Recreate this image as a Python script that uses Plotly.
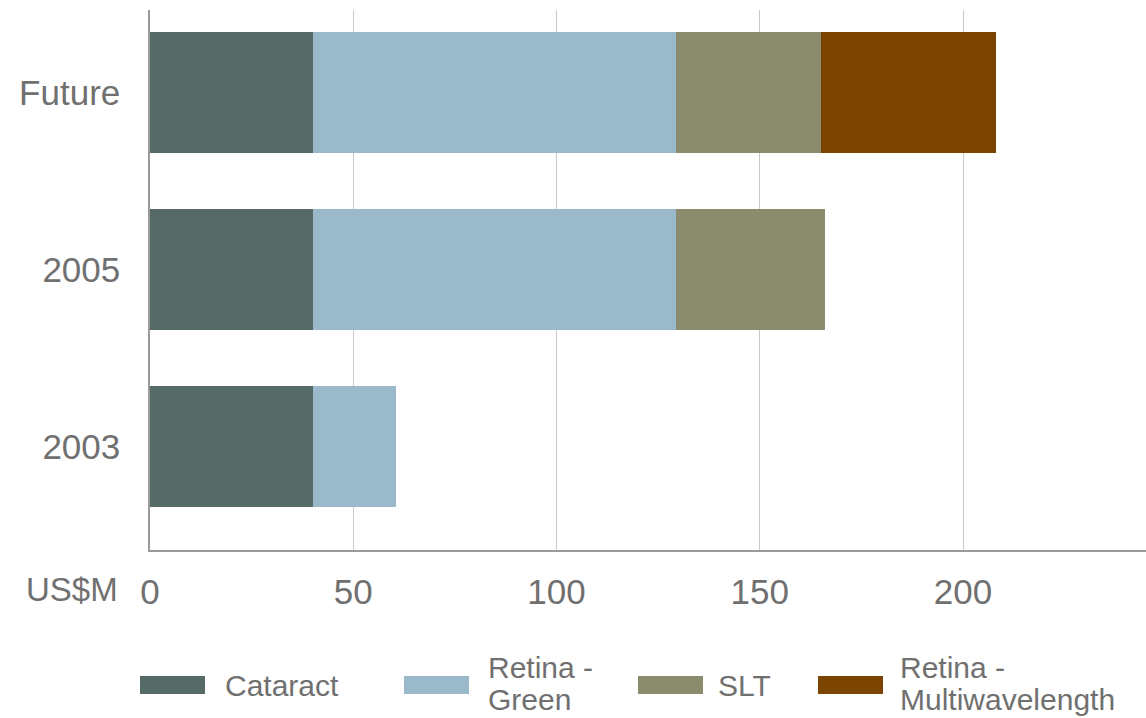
import plotly.graph_objects as go

# ---- data ----
categories = ["2003", "2005", "Future"]
series_names = ["Cataract", "Retina - Green", "SLT", "Retina - Multiwavelength"]
legend_lines = [["Cataract"], ["Retina -", "Green"], ["SLT"], ["Retina -", "Multiwavelength"]]
cataract = [40, 40, 40]
retina_green = [20.5, 89.5, 89.5]
slt = [0, 36.5, 35.5]
retina_multi = [0, 0, 43]
x_tickvals = [0, 50, 100, 150, 200]
x_ticktext = ["0", "50", "100", "150", "200"]
unit_label = "US$M"

colors = ["#566b68", "#9ab9ca", "#8b8c6e", "#7b4501"]
values = [cataract, retina_green, slt, retina_multi]

W, H = 1146, 718
ML, MR, MT, MB = 150, 0, 10, 168
PW, PH = W - ML - MR, H - MT - MB

fig = go.Figure()
for name, vals, col in zip(series_names, values, colors):
    fig.add_trace(go.Bar(
        y=categories, x=vals, name=name, orientation="h",
        marker=dict(color=col, line=dict(width=0)),
        showlegend=False,
    ))

text_color = "#707070"
font_family = "Liberation Sans, Arial, sans-serif"

fig.update_layout(
    width=W, height=H,
    margin=dict(l=ML, r=MR, t=MT, b=MB, pad=0),
    barmode="stack",
    bargap=0.316,
    plot_bgcolor="white",
    paper_bgcolor="white",
    font=dict(family=font_family, color=text_color),
    xaxis=dict(
        range=[0, 245],
        tickvals=x_tickvals, ticktext=x_ticktext,
        tickfont=dict(size=35, color=text_color),
        showgrid=True, gridcolor="#c9c9c9", gridwidth=1,
        showline=True, linecolor="#9a9a9a", linewidth=1.5,
        zeroline=False, ticks="", ticklabelstandoff=10,
        fixedrange=True,
    ),
    yaxis=dict(
        range=[-0.585, 2.466],
        type="category",
        categoryorder="array", categoryarray=categories,
        tickfont=dict(size=35, color=text_color),
        showgrid=False,
        showline=True, linecolor="#9a9a9a", linewidth=1.5,
        ticks="", ticklabelstandoff=21,
        fixedrange=True,
    ),
)

# unit label next to the x tick labels
fig.add_annotation(
    text=unit_label, xref="paper", yref="paper", x=0, y=0,
    xanchor="right", yanchor="top", xshift=-30, yshift=-19,
    showarrow=False, font=dict(size=33, color=text_color),
)

# custom legend (large swatches as in the reference)
def px_x(p):
    return (p - ML) / PW

def px_y(p):
    return (H - MB - p) / PH

swatch_left = [140, 404, 638, 818]
swatch_w = 65
label_left = [223, 486, 716, 898]
for i in range(len(series_names)):
    fig.add_shape(
        type="rect", xref="paper", yref="paper",
        x0=px_x(swatch_left[i]), x1=px_x(swatch_left[i] + swatch_w),
        y0=px_y(694), y1=px_y(676),
        fillcolor=colors[i], line=dict(width=0), layer="above",
    )
    lines = legend_lines[i]
    ys = [685] if len(lines) == 1 else [667, 699]
    for txt, yy in zip(lines, ys):
        fig.add_annotation(
            text=txt, xref="paper", yref="paper",
            x=px_x(label_left[i]), y=px_y(yy),
            xanchor="left", yanchor="middle", align="left",
            showarrow=False, font=dict(size=30, color=text_color),
        )

fig.write_html("out.html")
